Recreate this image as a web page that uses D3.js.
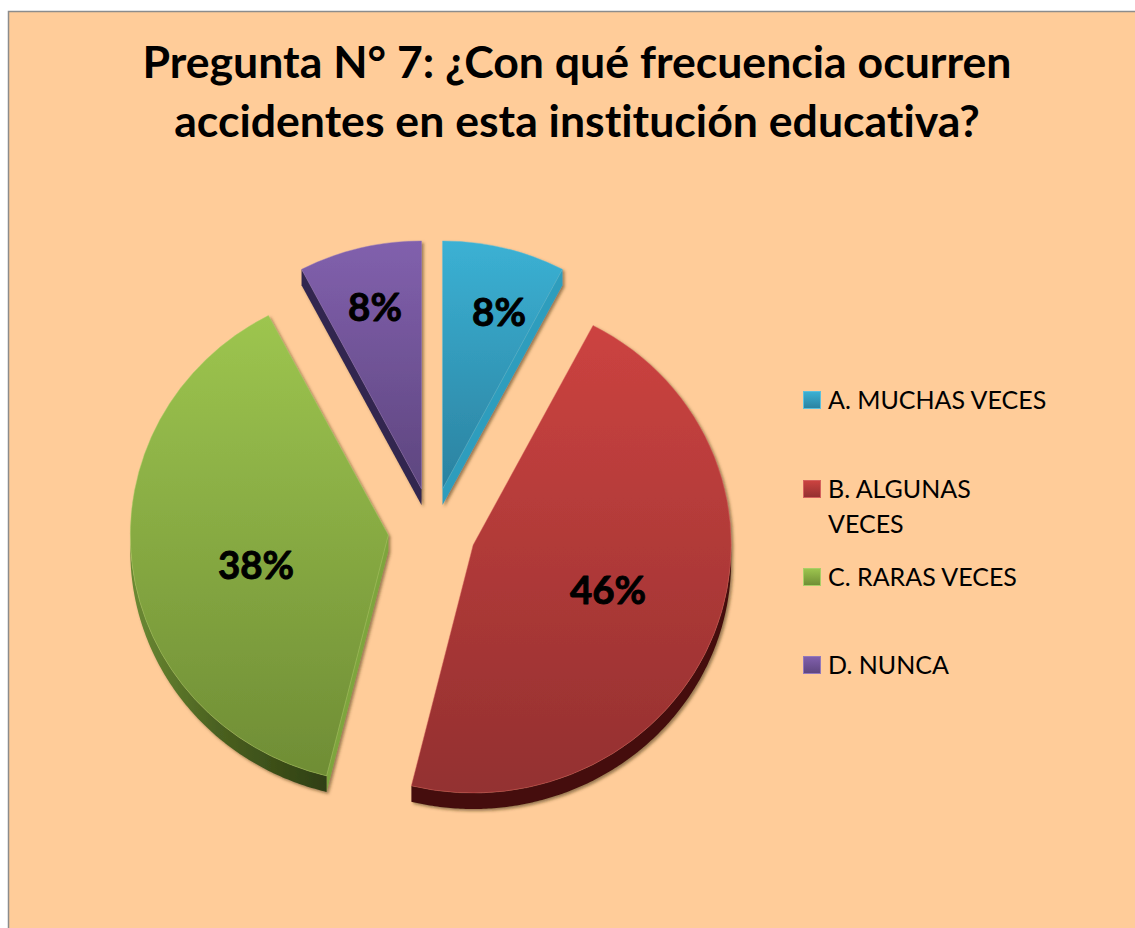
<!DOCTYPE html>
<html><head><meta charset="utf-8">
<script src="https://cdn.jsdelivr.net/npm/d3@7"></script>
<style>html,body{margin:0;padding:0;background:#fff;overflow:hidden}svg{display:block}text{font-variant-ligatures:none}</style>
</head><body><div id="chart"></div>
<script>
// data
const titleLines = ["Pregunta N° 7: ¿Con qué frecuencia ocurren", "accidentes en esta institución educativa?"];
const categories = ["A. MUCHAS VECES", "B. ALGUNAS VECES", "C. RARAS VECES", "D. NUNCA"];
const legendLines = [["A. MUCHAS VECES"], ["B. ALGUNAS", "VECES"], ["C. RARAS VECES"], ["D. NUNCA"]];
const counts = [1, 6, 5, 1];
// styles
const topColors = ["#3bb1d4", "#cc4340", "#9dc54f", "#8160ad"];
const bottomColors = ["#2b82a0", "#933030", "#6f8d35", "#5e467f"];
const rimColors = ["#25708a", "#45100f", "#2f3f12", "#33264f"];
const litColors = ["#2f9dbd", "#a33535", "#7ea53e", "#6a4f92"];
const edgeColors = ["#5cc0dd", "#d5605c", "#a9cf66", "#9378bb"];
// layout
const W = 1135, H = 928;
const cx = 432, cy = 530, rx = 258, ry = 248, explode = 44, depth = 16;
const labelSpots = [[499, 312], [608, 590], [256, 565], [375, 307]];
const legendYs = [409, 498, 586, 674];

const svg = d3.select("#chart").append("svg").attr("width", W).attr("height", H);
const defs = svg.append("defs");
const shadow = defs.append("filter").attr("id", "sh").attr("x", "-10%").attr("y", "-10%").attr("width", "125%").attr("height", "125%");
shadow.append("feDropShadow").attr("dx", 2).attr("dy", 2).attr("stdDeviation", 1.6).attr("flood-color", "#4a3418").attr("flood-opacity", 0.55);

categories.forEach((c, i) => {
  const g = defs.append("linearGradient").attr("id", "grad" + i).attr("x1", 0).attr("y1", 0).attr("x2", 0).attr("y2", 1);
  g.append("stop").attr("offset", 0).attr("stop-color", topColors[i]);
  g.append("stop").attr("offset", 1).attr("stop-color", bottomColors[i]);
});
const rimG = defs.append("linearGradient").attr("id", "rimGreen").attr("x1", 0).attr("y1", 0).attr("x2", 1).attr("y2", 0);
rimG.append("stop").attr("offset", 0).attr("stop-color", "#6b8a33");
rimG.append("stop").attr("offset", 0.45).attr("stop-color", "#4a6020");
rimG.append("stop").attr("offset", 1).attr("stop-color", "#2f3f12");

// panel
svg.append("rect").attr("x", 8.5).attr("y", 11.5).attr("width", W + 10).attr("height", H + 10)
  .attr("fill", "#ffcc99").attr("stroke", "#8c8c8c").attr("stroke-width", 1.5);

// title
svg.append("g").selectAll("text").data(titleLines).join("text")
  .attr("x", 577).attr("y", (d, i) => 78 + i * 59)
  .attr("text-anchor", "middle").attr("font-family", "Lato, 'Open Sans', sans-serif")
  .attr("font-weight", 700).attr("font-size", 44.6).attr("fill", "#000").text(d => d);

// pie
const pie = d3.pie().sort(null).value(d => d);
const arcs = pie(counts);
const arc = d3.arc().innerRadius(0).outerRadius(rx);
const ys = ry / rx;
const px = (a, r = rx) => r * Math.sin(a);
const py = (a, r = rx) => -r * ys * Math.cos(a);

const slice = svg.append("g").selectAll("g").data(arcs).join("g")
  .attr("filter", "url(#sh)")
  .attr("transform", d => {
    const m = (d.startAngle + d.endAngle) / 2;
    return `translate(${cx + explode * Math.sin(m)},${cy - explode * ys * Math.cos(m)})`;
  });

// side walls
slice.each(function (d, i) {
  const g = d3.select(this);
  const edges = [[d.startAngle, d.startAngle - Math.PI / 2], [d.endAngle, d.endAngle + Math.PI / 2]];
  edges.forEach(([a, n]) => {
    if (Math.cos(n) < -0.02) {
      const x = px(a), y = py(a);
      g.append("path").attr("d", `M0,0L${x},${y}L${x},${y + depth}L0,${depth}Z`)
        .attr("fill", Math.sin(n) > 0 ? litColors[i] : rimColors[i]);
    }
  });
  const a0 = Math.max(d.startAngle, Math.PI / 2), a1 = Math.min(d.endAngle, 3 * Math.PI / 2);
  if (a1 > a0) {
    const as = d3.range(a0, a1, 0.01).concat([a1]);
    const top = as.map(a => [px(a), py(a)]);
    const bot = as.slice().reverse().map(a => [px(a), py(a) + depth]);
    g.append("path").attr("d", d3.line()(top.concat(bot)) + "Z")
      .attr("fill", i === 2 ? "url(#rimGreen)" : rimColors[i]);
  }
});

// top faces
slice.append("path")
  .attr("d", arc)
  .attr("transform", `scale(1,${ys})`)
  .attr("fill", (d, i) => `url(#grad${i})`)
  .attr("stroke", (d, i) => edgeColors[i])
  .attr("stroke-opacity", 0.55)
  .attr("stroke-width", 0.8)
  .attr("vector-effect", "non-scaling-stroke");

// percentage labels
const total = d3.sum(counts);
svg.append("g").selectAll("text").data(counts).join("text")
  .attr("x", (d, i) => labelSpots[i][0]).attr("y", (d, i) => labelSpots[i][1])
  .attr("dy", "0.36em")
  .attr("text-anchor", "middle")
  .attr("font-family", "Lato, sans-serif").attr("font-weight", 700).attr("font-size", 38.5)
  .attr("fill", "#000").attr("stroke", "#000").attr("stroke-width", 0.9).attr("stroke-linejoin", "round")
  .text(d => d3.format(".0%")(d / total));

// legend
const leg = svg.append("g").selectAll("g").data(categories).join("g");
leg.append("rect").attr("x", 803.5).attr("y", (d, i) => legendYs[i] - 17.5).attr("width", 17).attr("height", 17)
  .attr("fill", (d, i) => `url(#grad${i})`).attr("stroke", (d, i) => edgeColors[i]).attr("stroke-width", 1);
leg.each(function (d, i) {
  d3.select(this).selectAll("text").data(legendLines[i]).join("text")
    .attr("x", 828).attr("y", (t, j) => legendYs[i] + j * 35)
    .attr("font-family", "Lato, sans-serif").attr("font-size", 25).attr("fill", "#000").text(t => t);
});
</script></body></html>
